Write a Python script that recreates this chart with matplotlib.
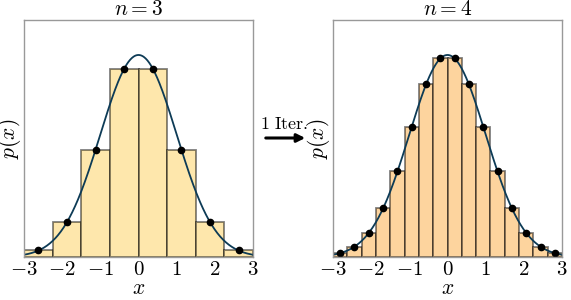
import numpy as np
import matplotlib
matplotlib.use("Agg")
import matplotlib.pyplot as plt

plt.rcParams['mathtext.fontset'] = 'cm'
plt.rcParams['font.family'] = 'serif'
plt.rcParams['font.serif'] = ['DejaVu Serif']

# bin heights (n=3 -> 8 bins, n=4 -> 16 bins on [-3, 3])
heights_n3 = [0.013, 0.069, 0.212, 0.372, 0.372, 0.212, 0.069, 0.013]
heights_n4 = [0.008, 0.020, 0.048, 0.096, 0.169, 0.257, 0.341, 0.392,
              0.392, 0.341, 0.257, 0.169, 0.096, 0.048, 0.020, 0.008]
titles = [r'$n=3$', r'$n=4$']
bar_colors = ['#fee7ac', '#fdd49e']
# target density: standard normal
mu = 0.0
sigma = 1.0
xlo, xhi = -3.0, 3.0

fig = plt.figure(figsize=(5.71, 3.0), dpi=100)
ax1 = fig.add_axes([24/571, 1 - 257/300, 229/571, 237/300])
ax2 = fig.add_axes([333/571, 1 - 257/300, 229/571, 237/300])

xs = np.linspace(xlo, xhi, 400)
pdf = np.exp(-0.5 * ((xs - mu) / sigma) ** 2) / (sigma * np.sqrt(2 * np.pi))

for ax, h, title, col in zip([ax1, ax2], [heights_n3, heights_n4], titles, bar_colors):
    nb = len(h)
    edges = np.linspace(xlo, xhi, nb + 1)
    centers = 0.5 * (edges[:-1] + edges[1:])
    width = edges[1] - edges[0]
    ax.bar(centers, h, width=width, color=col, edgecolor=(0, 0, 0, 0.5), linewidth=1.3)
    ax.plot(xs, pdf, color='#0d3b56', linewidth=1.3)
    ax.plot(centers, h, 'o', color='black', markersize=4.5)
    ax.set_xlim(xlo, xhi)
    ax.set_ylim(0, 0.468)
    ax.set_yticks([])
    ax.set_xticks([-3, -2, -1, 0, 1, 2, 3])
    ax.set_xticklabels([r'$%d$' % t for t in [-3, -2, -1, 0, 1, 2, 3]], fontsize=15)
    ax.tick_params(axis='x', length=0, pad=2)
    ax.set_xlabel(r'$x$', fontsize=15.5, labelpad=-1)
    ax.set_ylabel(r'$p(x)$', fontsize=15.5, labelpad=1)
    ax.set_title(title, fontsize=15.5, pad=2)
    for s in ax.spines.values():
        s.set_color('#999999')
        s.set_linewidth(1.0)

fig.text(284/571, 1 - 124/300, r'$\mathrm{1\ Iter.}$', fontsize=13, ha='center', va='center')
fig.add_artist(matplotlib.patches.FancyArrowPatch((263/571, 1 - 138/300), (308/571, 1 - 138/300),
                                                  transform=fig.transFigure, arrowstyle='-|>',
                                                  mutation_scale=12, linewidth=2.2, color='black'))

plt.savefig("out.png", dpi=100)
